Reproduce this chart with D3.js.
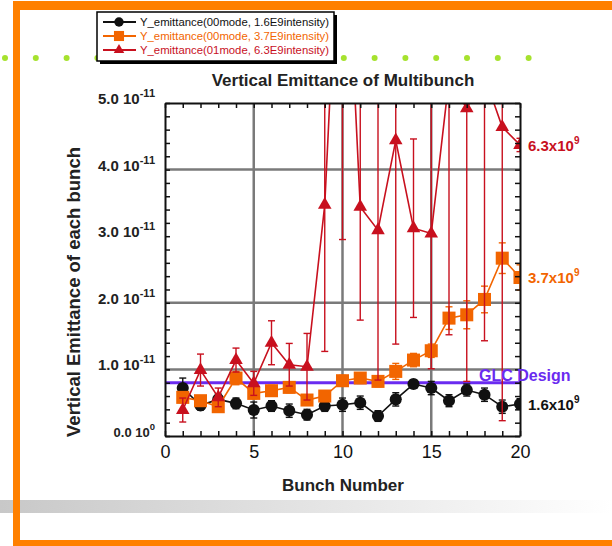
<!DOCTYPE html>
<html>
<head>
<meta charset="utf-8">
<script src="https://cdn.jsdelivr.net/npm/d3@7"></script>
<style>
  body { margin: 0; background: #fff; }
  svg { display: block; font-family: "Liberation Sans", Arial, sans-serif; }
</style>
</head>
<body>
<svg id="chart" width="612" height="546"></svg>
<script>
// Data (emittance values in units of 1e-11)
const bunches = d3.range(1, 21);
const blackVals = [0.72, 0.46, 0.55, 0.49, 0.39, 0.45, 0.38, 0.32, 0.45, 0.47, 0.50, 0.30, 0.55, 0.78, 0.72, 0.53, 0.69, 0.62, 0.44, 0.48];
const blackErr  = [0.15, 0.07, 0.08, 0.08, 0.12, 0.08, 0.10, 0.08, 0.08, 0.10, 0.10, 0.08, 0.10, 0.06, 0.10, 0.09, 0.09, 0.10, 0.10, 0.08];
const orangeVals = [0.58, 0.53, 0.44, 0.87, 0.64, 0.68, 0.73, 0.54, 0.60, 0.83, 0.87, 0.82, 0.97, 1.14, 1.28, 1.77, 1.82, 2.05, 2.67, 2.38];
const orangeErr  = [0.08, 0.07, 0.06, 0.10, 0.08, 0.08, 0.08, 0.07, 0.08, 0.08, 0.08, 0.08, 0.12, 0.10, 0.10, 0.17, 0.21, 0.20, 0.23, 0.19];
const redVals = [0.39, 0.99, 0.58, 1.14, 0.79, 1.40, 1.07, 1.04, 3.47, 9.0, 3.44, 3.09, 4.44, 3.12, 3.04, 5.36, 4.92, 5.40, 4.64, 4.37];
const redErr  = [0.18, 0.24, 0.14, 0.18, 0.18, 0.33, 0.32, 0.50, 2.20, 6.05, 1.70, 2.25, 3.06, 1.34, 2.03, 3.84, 4.10, 3.97, 4.41, 0.10];
const glcDesign = 0.8;

const yMajor = [0, 1, 2, 3, 4, 5];
const yLabels = ["0.0 10", "1.0 10", "2.0 10", "3.0 10", "4.0 10", "5.0 10"];
const yExps = ["0", "-11", "-11", "-11", "-11", "-11"];
const xLabels = [0, 5, 10, 15, 20];
const gridX = [5, 10, 15];
const gridY = [1, 2, 4];

const legendNames = [
  "Y_emittance(00mode, 1.6E9intensity)",
  "Y_emittance(00mode, 3.7E9intensity)",
  "Y_emittance(01mode, 6.3E9intensity)"
];
const endLabels = ["1.6x10", "3.7x10", "6.3x10"];

const BLACK = "#111111", ORANGE = "#f26500", RED = "#c8101e", PURPLE = "#6a2bf0";

const svg = d3.select("#chart");

// slide decoration
const defs = svg.append("defs");
const grad = defs.append("linearGradient").attr("id", "fade");
grad.append("stop").attr("offset", "0%").attr("stop-color", "#c8c8c8");
grad.append("stop").attr("offset", "100%").attr("stop-color", "#ffffff");
svg.append("rect").attr("x", 0).attr("y", 500).attr("width", 612).attr("height", 13).attr("fill", "url(#fade)");
svg.append("rect").attr("x", 13).attr("y", 1).attr("width", 599).attr("height", 9).attr("fill", "#ff8000");
svg.append("rect").attr("x", 13).attr("y", 1).attr("width", 7).attr("height", 545).attr("fill", "#ff8000");
svg.append("rect").attr("x", 13).attr("y", 540).attr("width", 599).attr("height", 6).attr("fill", "#ff8000");
svg.append("g").selectAll("circle")
  .data(d3.range(5, 540, 30.8))
  .join("circle")
  .attr("cx", d => d).attr("cy", 58).attr("r", 3).attr("fill", "#a6e22e");

// scales
const x = d3.scaleLinear().domain([0, 20]).range([165, 520]);
const y = d3.scaleLinear().domain([0, 5]).range([436, 103]);

defs.append("clipPath").attr("id", "plotclip")
  .append("rect").attr("x", 165).attr("y", 103).attr("width", 355).attr("height", 333);

// grid
const grid = svg.append("g").attr("stroke", "#7a7a7a").attr("stroke-width", 2.5);
grid.selectAll(".gx").data(gridX).join("line")
  .attr("x1", d => x(d)).attr("x2", d => x(d)).attr("y1", y(0)).attr("y2", y(5));
grid.selectAll(".gy").data(gridY).join("line")
  .attr("x1", x(0)).attr("x2", x(20)).attr("y1", d => y(d)).attr("y2", d => y(d));

// GLC design line
svg.append("line")
  .attr("x1", x(0)).attr("x2", x(20)).attr("y1", y(glcDesign)).attr("y2", y(glcDesign))
  .attr("stroke", PURPLE).attr("stroke-width", 3);

// series
const plot = svg.append("g").attr("clip-path", "url(#plotclip)");
const series = [
  {vals: blackVals, err: blackErr, color: BLACK, shape: d3.symbolCircle, size: 115},
  {vals: orangeVals, err: orangeErr, color: ORANGE, shape: d3.symbolSquare, size: 170},
  {vals: redVals, err: redErr, color: RED, shape: d3.symbolTriangle, size: 80}
];
const line = d3.line().x(d => x(d.n)).y(d => y(d.v));

series.forEach(s => {
  const pts = bunches.map((n, i) => ({n: n, v: s.vals[i], e: s.err[i]}));
  const g = plot.append("g");
  g.append("path").datum(pts).attr("d", line)
    .attr("fill", "none").attr("stroke", s.color).attr("stroke-width", 1.6);
  const eb = g.selectAll(".eb").data(pts).join("g").attr("stroke", s.color).attr("stroke-width", 1.4);
  eb.append("line").attr("x1", d => x(d.n)).attr("x2", d => x(d.n))
    .attr("y1", d => y(d.v - d.e)).attr("y2", d => y(d.v + d.e));
  eb.append("line").attr("x1", d => x(d.n) - 3.5).attr("x2", d => x(d.n) + 3.5)
    .attr("y1", d => y(d.v - d.e)).attr("y2", d => y(d.v - d.e));
  eb.append("line").attr("x1", d => x(d.n) - 3.5).attr("x2", d => x(d.n) + 3.5)
    .attr("y1", d => y(d.v + d.e)).attr("y2", d => y(d.v + d.e));
  g.selectAll(".mk").data(pts).join("path")
    .attr("d", d3.symbol().type(s.shape).size(s.size))
    .attr("transform", d => `translate(${x(d.n)},${y(d.v)})`)
    .attr("fill", s.color);
});

// axes with inward ticks
const minor = d3.range(0, 5.01, 0.2);
const axStyle = g => {
  g.select(".domain").attr("stroke", "#111").attr("stroke-width", 2);
  g.selectAll(".tick line").attr("stroke", "#111").attr("stroke-width", 1.5);
};
svg.append("g").attr("transform", `translate(0,${y(0)})`)
  .call(d3.axisBottom(x).tickValues(d3.range(0, 21)).tickSize(-5).tickSizeOuter(0)
    .tickFormat(d => xLabels.includes(d) ? d : ""))
  .call(axStyle)
  .call(g => g.selectAll(".tick text").attr("font-size", 18).attr("fill", "#111").attr("dy", "1.05em")
    .attr("font-family", "Liberation Sans, Arial, sans-serif"));
svg.append("g").attr("transform", `translate(0,${y(5)})`)
  .call(d3.axisTop(x).tickValues(d3.range(0, 21)).tickSize(-5).tickSizeOuter(0).tickFormat(""))
  .call(axStyle);
svg.append("g").attr("transform", `translate(${x(0)},0)`)
  .call(d3.axisLeft(y).tickValues(minor).tickSize(-5).tickSizeOuter(0).tickFormat(""))
  .call(axStyle);
svg.append("g").attr("transform", `translate(${x(20)},0)`)
  .call(d3.axisRight(y).tickValues(minor).tickSize(-5).tickSizeOuter(0).tickFormat(""))
  .call(axStyle);

// y tick labels with exponents
const yl = svg.append("g").attr("font-weight", "bold").attr("fill", "#222");
yMajor.forEach((v, i) => {
  const small = v === 0;
  const t = yl.append("text")
    .attr("x", 155).attr("y", y(v) + 1)
    .attr("text-anchor", "end").attr("font-size", small ? 13 : 15);
  t.append("tspan").text(yLabels[i]);
  t.append("tspan").attr("dy", -7).attr("font-size", small ? 9.5 : 11).text(yExps[i]);
});

// titles
svg.append("text").attr("x", 343).attr("y", 86).attr("text-anchor", "middle")
  .attr("font-size", 17).attr("font-weight", "bold").attr("fill", "#222")
  .text("Vertical Emittance of Multibunch");
svg.append("text").attr("x", 343).attr("y", 491).attr("text-anchor", "middle")
  .attr("font-size", 17).attr("font-weight", "bold").attr("fill", "#222")
  .text("Bunch Number");
svg.append("text").attr("transform", "translate(80,292) rotate(-90)").attr("text-anchor", "middle")
  .attr("font-size", 18.5).attr("font-weight", "bold").attr("fill", "#222")
  .text("Vertical Emittance of each bunch");

// right-hand labels
const endColors = [BLACK, ORANGE, RED];
const endY = [blackVals[19], orangeVals[19], redVals[19]];
endLabels.forEach((lab, i) => {
  const t = svg.append("text").attr("x", 528).attr("y", y(endY[i]) + 6)
    .attr("font-size", 15).attr("font-weight", "bold").attr("fill", endColors[i]);
  t.append("tspan").text(lab);
  t.append("tspan").attr("dy", -7).attr("font-size", 10).text("9");
});
svg.append("text").attr("x", 479).attr("y", y(glcDesign) - 2)
  .attr("font-size", 16).attr("font-weight", "bold").attr("fill", PURPLE).text("GLC Design");

// legend
const lg = svg.append("g");
lg.append("rect").attr("x", 100).attr("y", 15).attr("width", 237).attr("height", 49).attr("fill", "#000");
lg.append("rect").attr("x", 97).attr("y", 12).attr("width", 237).attr("height", 49)
  .attr("fill", "#fff").attr("stroke", "#000").attr("stroke-width", 1.5);
series.forEach((s, i) => {
  const ly = 22 + i * 14;
  lg.append("line").attr("x1", 103).attr("x2", 136).attr("y1", ly).attr("y2", ly)
    .attr("stroke", s.color).attr("stroke-width", 2);
  lg.append("path").attr("d", d3.symbol().type(s.shape).size(s.size * 0.6))
    .attr("transform", `translate(119,${ly})`).attr("fill", s.color);
  lg.append("text").attr("x", 140).attr("y", ly + 4).attr("font-size", 11.5)
    .attr("textLength", 189).attr("lengthAdjust", "spacingAndGlyphs")
    .attr("fill", s.color).text(legendNames[i]);
});
</script>
</body>
</html>
